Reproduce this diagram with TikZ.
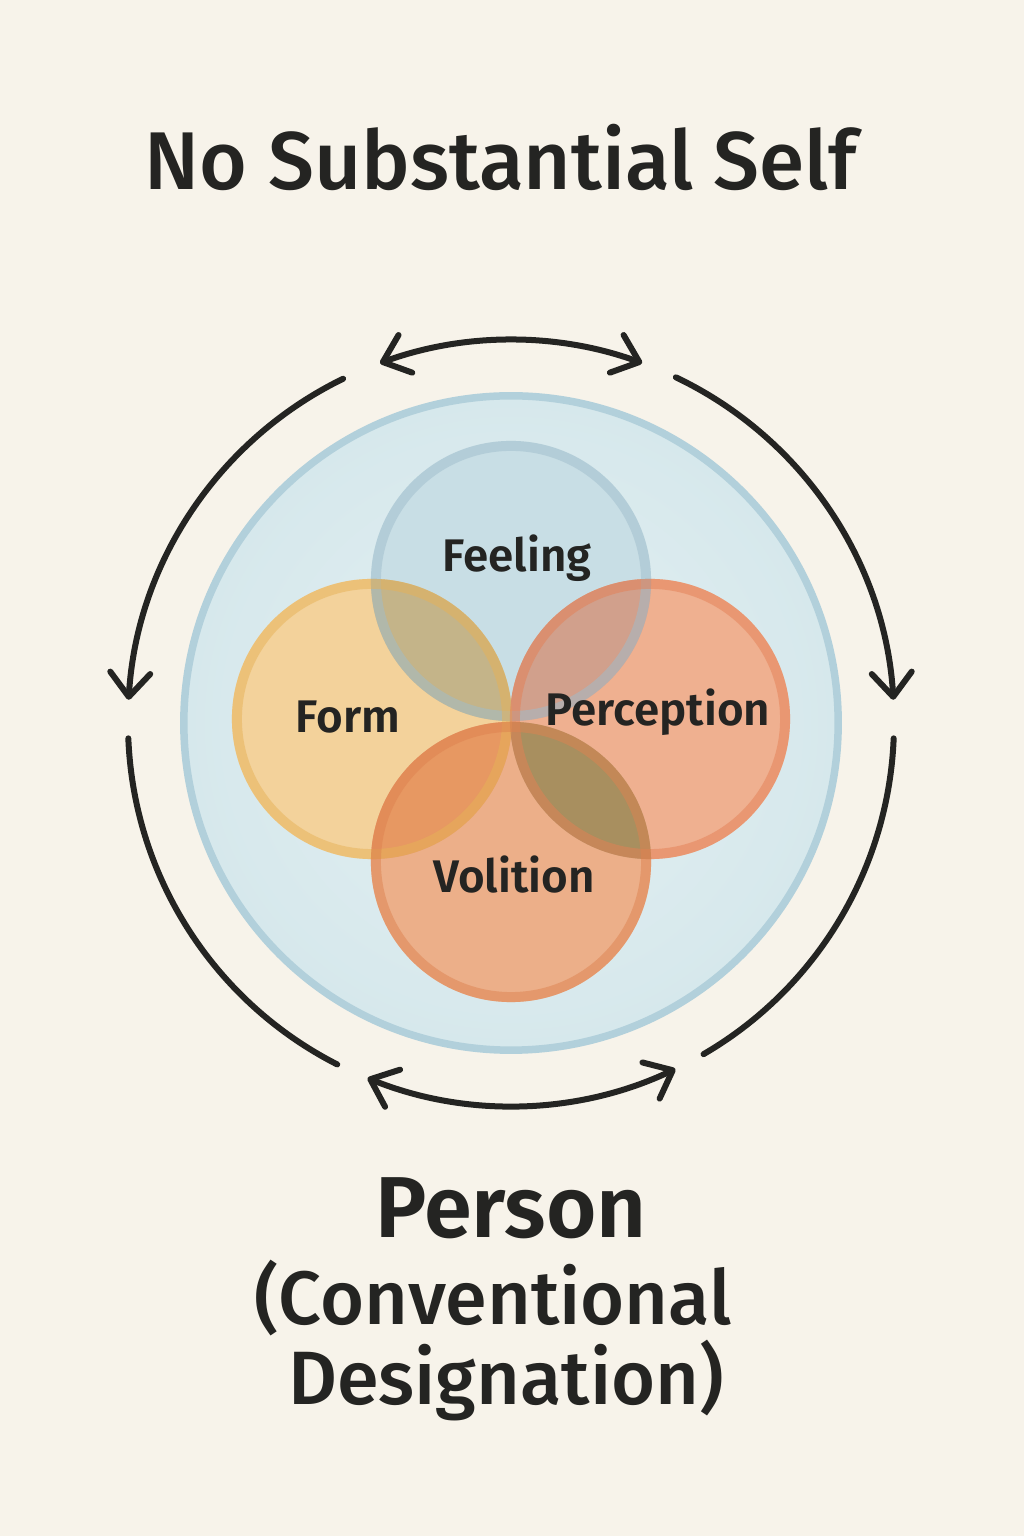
\documentclass[tikz,border=0pt]{standalone}
\usepackage{fontspec}
\setmainfont{Fira Sans}[UprightFont={* Medium}, BoldFont={* SemiBold}]
\usetikzlibrary{arrows.meta,calc}
\definecolor{bg}{HTML}{F7F3EA}
\definecolor{ink}{HTML}{242422}
\definecolor{bigfill}{HTML}{D6E8EC}
\definecolor{bigin}{HTML}{E4F0F2}
\definecolor{bigring}{HTML}{B2D0DB}
\definecolor{feelfill}{HTML}{C8DEE5}
\definecolor{feelring}{HTML}{9FBDCC}
\definecolor{formfill}{HTML}{F3D29B}
\definecolor{formring}{HTML}{E6B257}
\definecolor{percfill}{HTML}{EFB090}
\definecolor{percring}{HTML}{E48055}
\definecolor{volfill}{HTML}{ECAF89}
\definecolor{volring}{HTML}{DE8250}
\definecolor{lensFF}{HTML}{C4B489}
\definecolor{lensFP}{HTML}{D1A08C}
\definecolor{lensFV}{HTML}{E79862}
\definecolor{lensPV}{HTML}{A88F5F}
\tikzset{
  cyclearc/.style={draw=ink, line width=0.6mm, line cap=round,
    arrows={-}, >={Straight Barb[length=2.4mm, width=4mm, line width=0.6mm, line cap=round, round]}},
  ring/.style={line width=1mm, draw opacity=0.5},
  lbl/.style={text=ink, font=\fontsize{13}{16}\selectfont\bfseries, anchor=base},
  title/.style={text=ink, font=\fontsize{23.3}{28}\selectfont, anchor=base},
  big/.style={text=ink, font=\fontsize{24.6}{30}\selectfont\bfseries, anchor=base},
  sub/.style={text=ink, font=\fontsize{21.5}{26}\selectfont, anchor=base}
}
\begin{document}
\begin{tikzpicture}[x=0.01cm,y=0.01cm]
\useasboundingbox (0,0) rectangle (1024,1536);
\fill[bg] (0,0) rectangle (1024,1536);

% centres
\coordinate (C) at (511,813);
\coordinate (Cfeel) at (511,955);
\coordinate (Cform) at (372,817);
\coordinate (Cperc) at (650,817);
\coordinate (Cvol) at (511,674);

% big circle
\shade[inner color=bigin, outer color=bigfill] (C) circle[radius=3.27cm];
\draw[bigring, line width=0.75mm] (C) circle[radius=3.27cm];

% circle fills
\fill[feelfill] (Cfeel) circle[radius=1.40cm];
\fill[formfill] (Cform) circle[radius=1.40cm];
\fill[percfill] (Cperc) circle[radius=1.40cm];
\fill[volfill] (Cvol) circle[radius=1.40cm];

% overlaps
\begin{scope}
  \clip (Cfeel) circle[radius=1.40cm];
  \fill[lensFF] (Cform) circle[radius=1.40cm];
  \fill[lensFP] (Cperc) circle[radius=1.40cm];
\end{scope}
\begin{scope}
  \clip (Cvol) circle[radius=1.40cm];
  \fill[lensFV] (Cform) circle[radius=1.40cm];
  \fill[lensPV] (Cperc) circle[radius=1.40cm];
\end{scope}

% rings
\draw[ring, draw=feelring] (Cfeel) circle[radius=1.35cm];
\draw[ring, draw=formring] (Cform) circle[radius=1.35cm];
\draw[ring, draw=percring] (Cperc) circle[radius=1.35cm];
\draw[ring, draw=volring] (Cvol) circle[radius=1.35cm];

% labels
\node[lbl] (feeling) at (517,964) {Feeling};
\node[lbl] (form) at (348,803) {Form};
\node[lbl] (perception) at (658,810) {Perception};
\node[lbl] (volition) at (514,643) {Volition};

% cycle arcs
\coordinate (t1) at ($(C)+(110:383)$);
\coordinate (ul) at ($(C)+(116:383)$);
\coordinate (ur) at ($(C)+(64.5:383)$);
\coordinate (ll) at ($(C)+(182.3:383)$);
\coordinate (lr) at ($(C)+(357.7:383)$);
\coordinate (b1) at ($(C)+(248:383)$);
\draw[cyclearc, <->] (t1) arc[start angle=110, end angle=70, radius=3.83cm];
\draw[cyclearc, ->] (ul) arc[start angle=116, end angle=176.5, radius=3.83cm];
\draw[cyclearc, ->] (ur) arc[start angle=64.5, end angle=3.5, radius=3.83cm];
\draw[cyclearc] (ll) arc[start angle=182.3, end angle=243, radius=3.83cm];
\draw[cyclearc] (lr) arc[start angle=357.7, end angle=300.2, radius=3.83cm];
\draw[cyclearc, <->] (b1) arc[start angle=248, end angle=295.4, radius=3.83cm];

% texts
\node[title] (ttl) at (501,1346) {No Substantial Self};
\node[big] (person) at (511,298) {Person};
\node[sub] (conv) at (493,211) {(Conventional};
\node[sub] (desig) at (506,131) {Designation)};
\end{tikzpicture}
\end{document}
